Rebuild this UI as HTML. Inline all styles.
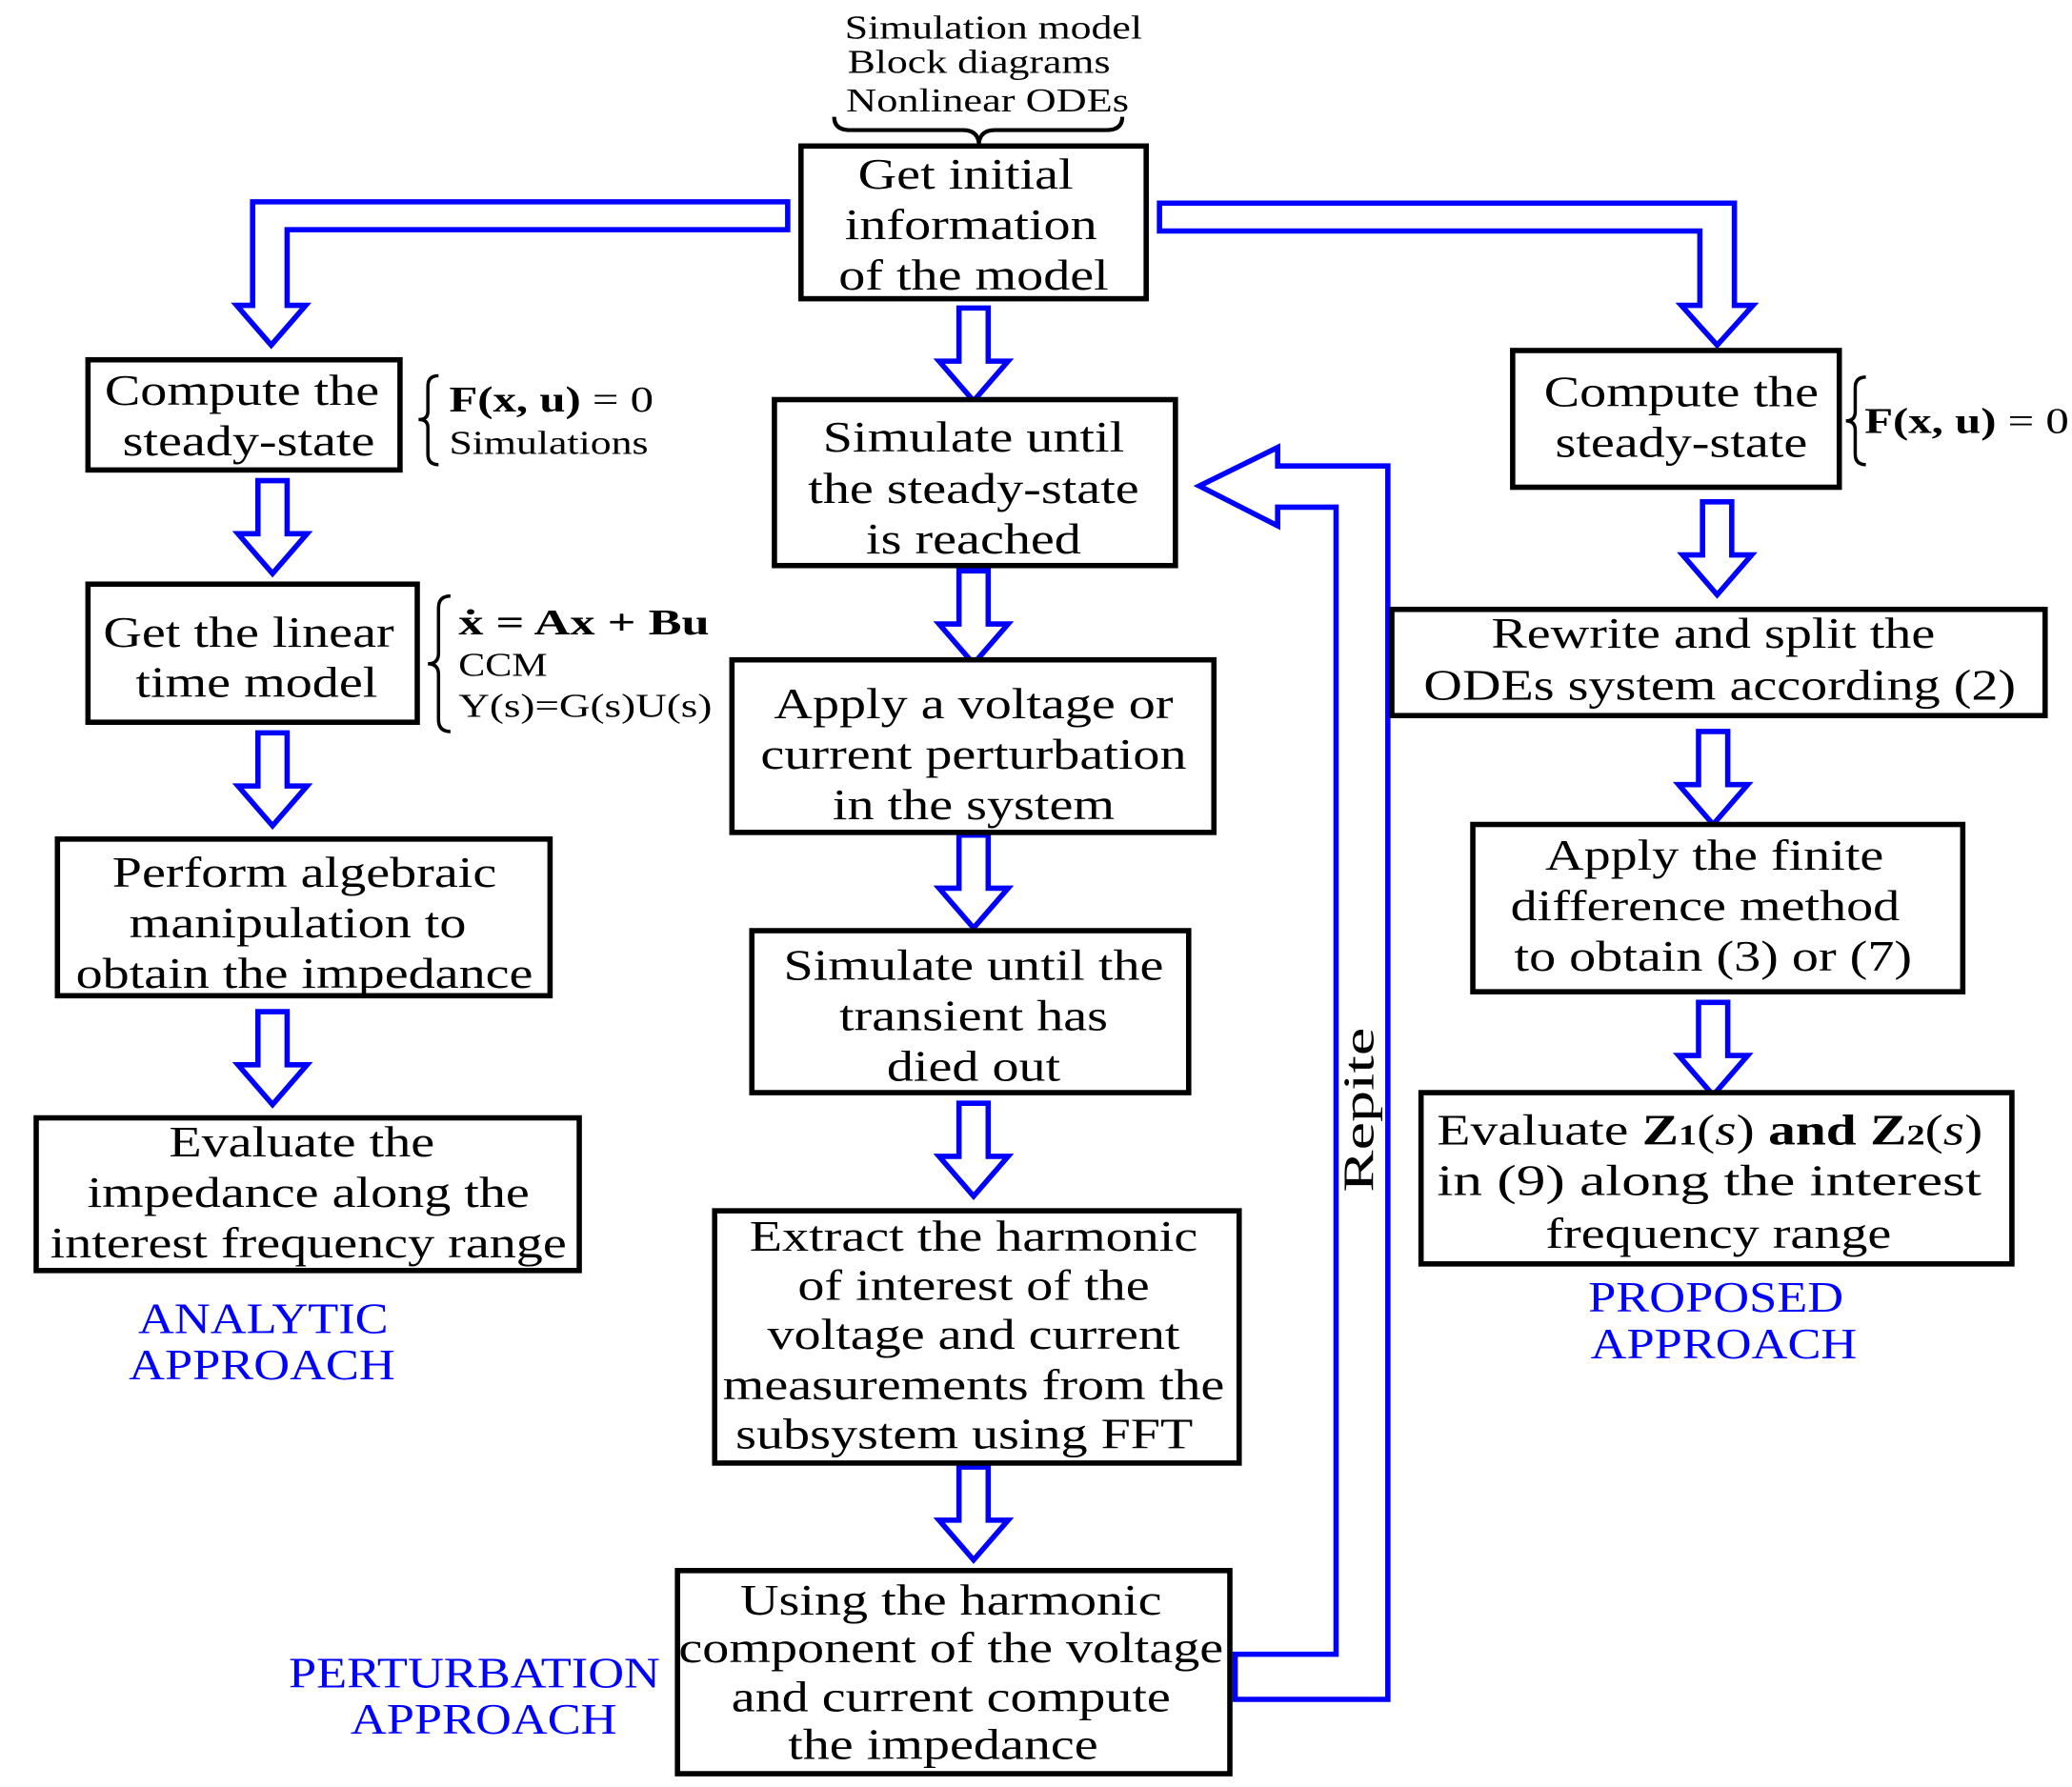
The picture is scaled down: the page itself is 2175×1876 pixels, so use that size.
<!DOCTYPE html>
<html><head><meta charset="utf-8"><style>
html,body{margin:0;padding:0;background:#fff}
svg{display:block}
text{font-family:"Liberation Serif",serif;fill:#000}
.b{font-size:33px;transform-box:fill-box;transform-origin:center;transform:scaleX(1.22)}
.r{font-size:33px}
.s{font-size:25px}
.f{font-size:27px}
.bl{font-size:33px;fill:#0000ff;transform-box:fill-box;transform-origin:center;transform:scaleX(1.14)}
.bx{fill:#fff;stroke:#000;stroke-width:4}
.ar{fill:#fff;stroke:#0000ff;stroke-width:4;stroke-linejoin:miter}
.br{fill:none;stroke:#000;stroke-width:2.5}
</style></head><body>
<svg width="2175" height="1876" viewBox="0 0 1560 1346" xmlns="http://www.w3.org/2000/svg">
<defs>
<polygon id="da" class="ar" points="-11,0 11,0 11,40 26,40 0,70 -26,40 -11,40"/>
</defs>
<text class="s" x="636" y="29" textLength="224" lengthAdjust="spacingAndGlyphs">Simulation model</text>
<text class="s" x="638" y="55" textLength="198" lengthAdjust="spacingAndGlyphs">Block diagrams</text>
<text class="s" x="637" y="84" textLength="213" lengthAdjust="spacingAndGlyphs">Nonlinear ODEs</text>
<path d="M628,88 Q628,98 640,98 L725,98 Q736,98 737,108 Q738,98 749,98 L833,98 Q845,98 845,88" fill="none" stroke="#000" stroke-width="3"/>

<polygon class="ar" points="593,152 190,152 190,230 178,230 204,260 230,230 216,230 216,173 593,173"/>
<polygon class="ar" points="873,153 1306,153 1306,230 1320,230 1293,260 1266,230 1280,230 1280,174 873,174"/>

<polygon class="ar" points="930,1280 1045,1280 1045,351 962,351 962,337 903,366 962,396 962,382 1006,382 1006,1246 930,1246"/>
<text class="r" transform="translate(1034,836) rotate(-90)" text-anchor="middle" textLength="124" lengthAdjust="spacingAndGlyphs">Repite</text>

<use href="#da" x="733" y="232"/>
<use href="#da" x="733" y="430"/>
<use href="#da" x="733" y="629"/>
<use href="#da" x="733" y="831"/>
<use href="#da" x="733" y="1105"/>
<use href="#da" x="205" y="362"/>
<use href="#da" x="205" y="552"/>
<use href="#da" x="205" y="762"/>
<use href="#da" x="1293" y="378"/>
<use href="#da" x="1290" y="551"/>
<use href="#da" x="1290" y="755"/>

<rect class="bx" x="603" y="110" width="260" height="115"/>
<text class="b" text-anchor="middle" x="727" y="142">Get initial</text>
<text class="b" text-anchor="middle" x="731" y="180">information</text>
<text class="b" text-anchor="middle" x="733" y="218">of the model</text>

<rect class="bx" x="583" y="301" width="302" height="125"/>
<text class="b" text-anchor="middle" x="733" y="340">Simulate until</text>
<text class="b" text-anchor="middle" x="733" y="379">the steady-state</text>
<text class="b" text-anchor="middle" x="733" y="417">is reached</text>

<rect class="bx" x="551" y="497" width="363" height="130"/>
<text class="b" text-anchor="middle" x="733" y="541">Apply a voltage or</text>
<text class="b" text-anchor="middle" x="733" y="579">current perturbation</text>
<text class="b" text-anchor="middle" x="733" y="617">in the system</text>

<rect class="bx" x="566" y="701" width="329" height="122"/>
<text class="b" text-anchor="middle" x="733" y="738">Simulate until the</text>
<text class="b" text-anchor="middle" x="733" y="776">transient has</text>
<text class="b" text-anchor="middle" x="733" y="814">died out</text>

<rect class="bx" x="538" y="912" width="395" height="190"/>
<text class="b" text-anchor="middle" x="733" y="942">Extract the harmonic</text>
<text class="b" text-anchor="middle" x="733" y="979">of interest of the</text>
<text class="b" text-anchor="middle" x="733" y="1016">voltage and current</text>
<text class="b" text-anchor="middle" x="733" y="1054">measurements from the</text>
<text class="b" text-anchor="middle" x="726" y="1091">subsystem using FFT</text>

<rect class="bx" x="510" y="1183" width="416" height="153"/>
<text class="b" text-anchor="middle" x="716" y="1216">Using the harmonic</text>
<text class="b" text-anchor="middle" x="716" y="1252">component of the voltage</text>
<text class="b" text-anchor="middle" x="716" y="1289">and current compute</text>
<text class="b" text-anchor="middle" x="710" y="1325">the impedance</text>

<rect class="bx" x="66" y="271" width="235" height="83"/>
<text class="b" text-anchor="middle" x="182" y="305">Compute the</text>
<text class="b" text-anchor="middle" x="187" y="343">steady-state</text>
<path class="br" d="M330,283 Q322,283 322,291 L322,310 Q322,316 315,316 Q322,316 322,322 L322,342 Q322,350 330,350"/>
<text class="f" x="338" y="310" font-weight="bold" textLength="154" lengthAdjust="spacingAndGlyphs">F(x, u) <tspan font-weight="normal">= 0</tspan></text>
<text class="s" x="338" y="342" textLength="150" lengthAdjust="spacingAndGlyphs">Simulations</text>

<rect class="bx" x="66" y="440" width="248" height="104"/>
<text class="b" text-anchor="middle" x="187" y="487">Get the linear</text>
<text class="b" text-anchor="middle" x="193" y="525">time model</text>
<path class="br" d="M339,449 Q330,449 330,458 L330,492 Q330,500 322,500 Q330,500 330,508 L330,542 Q330,551 339,551"/>
<text class="f" x="345" y="478" font-weight="bold" textLength="189" lengthAdjust="spacingAndGlyphs">ẋ = Ax + Bu</text>
<text class="s" x="345" y="509" textLength="67" lengthAdjust="spacingAndGlyphs">CCM</text>
<text class="s" x="345" y="540" textLength="191" lengthAdjust="spacingAndGlyphs">Y(s)=G(s)U(s)</text>

<rect class="bx" x="43" y="632" width="371" height="118"/>
<text class="b" text-anchor="middle" x="229" y="668">Perform algebraic</text>
<text class="b" text-anchor="middle" x="224" y="706">manipulation to</text>
<text class="b" text-anchor="middle" x="229" y="744">obtain the impedance</text>

<rect class="bx" x="27" y="842" width="409" height="115"/>
<text class="b" text-anchor="middle" x="227" y="871">Evaluate the</text>
<text class="b" text-anchor="middle" x="232" y="909">impedance along the</text>
<text class="b" text-anchor="middle" x="232" y="947">interest frequency range</text>

<text class="bl" text-anchor="middle" x="198" y="1004">ANALYTIC</text>
<text class="bl" text-anchor="middle" x="197" y="1039">APPROACH</text>
<text class="bl" text-anchor="middle" x="357" y="1271">PERTURBATION</text>
<text class="bl" text-anchor="middle" x="364" y="1306">APPROACH</text>

<rect class="bx" x="1139" y="264" width="246" height="103"/>
<text class="b" text-anchor="middle" x="1266" y="306">Compute the</text>
<text class="b" text-anchor="middle" x="1266" y="344">steady-state</text>
<path class="br" d="M1405,284 Q1397,284 1397,292 L1397,310 Q1397,317 1390,317 Q1397,317 1397,324 L1397,342 Q1397,350 1405,350"/>
<text class="f" x="1404" y="326" font-weight="bold" textLength="154" lengthAdjust="spacingAndGlyphs">F(x, u) <tspan font-weight="normal">= 0</tspan></text>

<rect class="bx" x="1048" y="459" width="492" height="80"/>
<text class="b" text-anchor="middle" x="1290" y="488">Rewrite and split the</text>
<text class="b" text-anchor="middle" x="1295" y="527">ODEs system according (2)</text>

<rect class="bx" x="1109" y="621" width="369" height="126"/>
<text class="b" text-anchor="middle" x="1291" y="655">Apply the finite</text>
<text class="b" text-anchor="middle" x="1284" y="693">difference method</text>
<text class="b" text-anchor="middle" x="1290" y="731">to obtain (3) or (7)</text>

<rect class="bx" x="1070" y="823" width="445" height="129"/>
<text class="r" x="1082" y="862" textLength="411" lengthAdjust="spacingAndGlyphs">Evaluate <tspan font-weight="bold">Z</tspan><tspan font-weight="bold" font-size="22">1</tspan>(<tspan font-style="italic">s</tspan>) <tspan font-weight="bold">and Z</tspan><tspan font-weight="bold" font-size="22">2</tspan>(<tspan font-style="italic">s</tspan>)</text>
<text class="r" x="1082" y="900" textLength="410" lengthAdjust="spacingAndGlyphs">in (9) along the interest</text>
<text class="b" text-anchor="middle" x="1294" y="940">frequency range</text>

<text class="bl" text-anchor="middle" x="1292" y="988">PROPOSED</text>
<text class="bl" text-anchor="middle" x="1298" y="1023">APPROACH</text>
</svg>
</body></html>
